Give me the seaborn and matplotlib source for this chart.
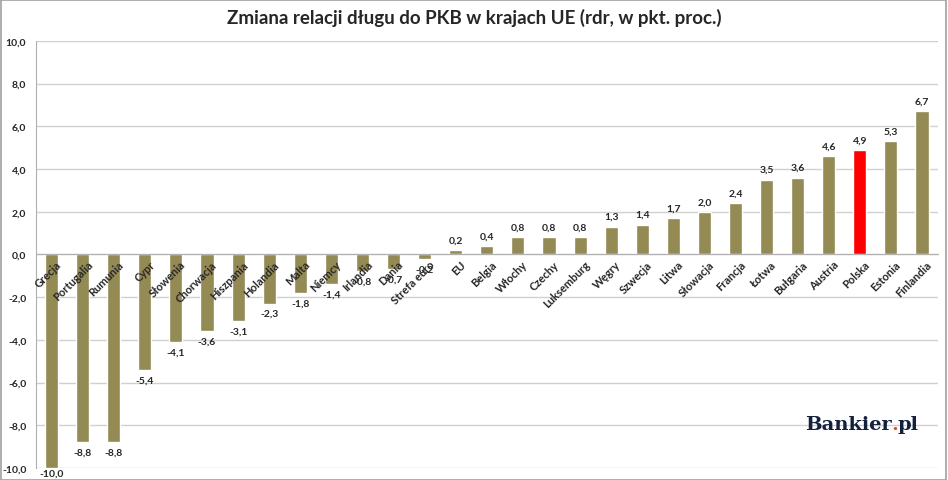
import pandas as pd
import matplotlib.pyplot as plt
import matplotlib.ticker as mticker
import matplotlib.transforms as mtransforms
import seaborn as sns

countries = ["Grecja", "Portugalia", "Rumunia", "Cypr", "Słowenia", "Chorwacja",
             "Hiszpania", "Holandia", "Malta", "Niemcy", "Irlandia", "Dania",
             "Strefa euro", "EU", "Belgia", "Włochy", "Czechy", "Luksemburg",
             "Węgry", "Szwecja", "Litwa", "Słowacja", "Francja", "Łotwa",
             "Bułgaria", "Austria", "Polska", "Estonia", "Finlandia"]
changes = [-10.0, -8.8, -8.8, -5.4, -4.1, -3.6, -3.1, -2.3, -1.8, -1.4, -0.8, -0.7,
           -0.2, 0.2, 0.4, 0.8, 0.8, 0.8, 1.3, 1.4, 1.7, 2.0, 2.4, 3.5, 3.6, 4.6,
           4.9, 5.3, 6.7]
highlight = "Polska"

df = pd.DataFrame({"kraj": countries, "zmiana": changes})

sns.set_style("white")
plt.rcParams["font.family"] = ["Lato", "DejaVu Sans"]

fig = plt.figure(figsize=(9.48, 4.81), dpi=100)
ax = fig.add_axes([0.038, 0.025, 0.951, 0.888])

colors = ["#FF0000" if c == highlight else "#948A54" for c in countries]
sns.barplot(data=df, x="kraj", y="zmiana", hue="kraj", palette=colors,
            legend=False, width=0.42, saturation=1, ax=ax, zorder=2)

ax.set_ylim(-10, 10)
ax.set_xlim(-0.5, len(countries) - 0.5)
ax.yaxis.set_major_locator(mticker.MultipleLocator(2))
ax.yaxis.set_major_formatter(mticker.FuncFormatter(lambda v, p: f"{v:.1f}".replace(".", ",")))
ax.grid(axis="y", color="#D0D0D0", linewidth=1)
ax.yaxis.set_zorder(0.5)
ax.xaxis.set_zorder(4)

for s in ["top", "right"]:
    ax.spines[s].set_visible(False)
ax.spines["left"].set_color("#B0B0B0")
ax.spines["bottom"].set_position(("data", 0))
ax.spines["bottom"].set_color("#B0B0B0")
ax.spines["bottom"].set_zorder(3)

ax.tick_params(axis="y", length=4, color="#B0B0B0", labelsize=7.5, pad=3)
for t in ax.get_yticklabels():
    t.set_fontweight("bold")

ax.set_xticks(range(len(countries)))
ax.set_xticklabels(countries, rotation=45, ha="right", rotation_mode="anchor",
                   fontsize=8, fontweight="bold")
ax.tick_params(axis="x", length=0, pad=3)
shift = mtransforms.ScaledTranslation(3 / 72, 0, fig.dpi_scale_trans)
for t in ax.get_xticklabels():
    t.set_transform(t.get_transform() + shift)
ax.set_xticks([i + 0.5 for i in range(-1, len(countries))], minor=True)
ax.tick_params(axis="x", which="minor", length=4, color="#B0B0B0")
ax.set_xlabel("")
ax.set_ylabel("")

for i, v in enumerate(changes):
    lab = f"{v:.1f}".replace(".", ",")
    if v > 0:
        off, va = 4, "bottom"
    elif v <= -9.5:
        off, va = -0.5, "top"
    else:
        off, va = -4, "top"
    ax.annotate(lab, (i, v), xytext=(0, off), textcoords="offset points",
                ha="center", va=va, fontsize=7.5, fontweight="bold",
                annotation_clip=False, zorder=5)

fig.text(0.5, 0.962, "Zmiana relacji długu do PKB w krajach UE (rdr, w pkt. proc.)",
         ha="center", va="center", fontsize=13.5, fontweight="bold")

fig.text(892 / 948, 1 - 425 / 481, "Bankier", ha="right", va="center",
         fontsize=14, fontweight="bold", family="DejaVu Serif", color="#14213D")
fig.text(891 / 948, 1 - 425 / 481, ".", ha="left", va="center",
         fontsize=14, fontweight="bold", family="DejaVu Serif", color="#E8471E")
fig.text(897 / 948, 1 - 425 / 481, "pl", ha="left", va="center",
         fontsize=14, fontweight="bold", family="DejaVu Serif", color="#14213D")

fig.patches.append(plt.Rectangle((0.001, 0.001), 0.997, 0.997, transform=fig.transFigure,
                                 fill=False, edgecolor="#A0A0A0", linewidth=1.2))

fig.savefig("out.png", dpi=100)
